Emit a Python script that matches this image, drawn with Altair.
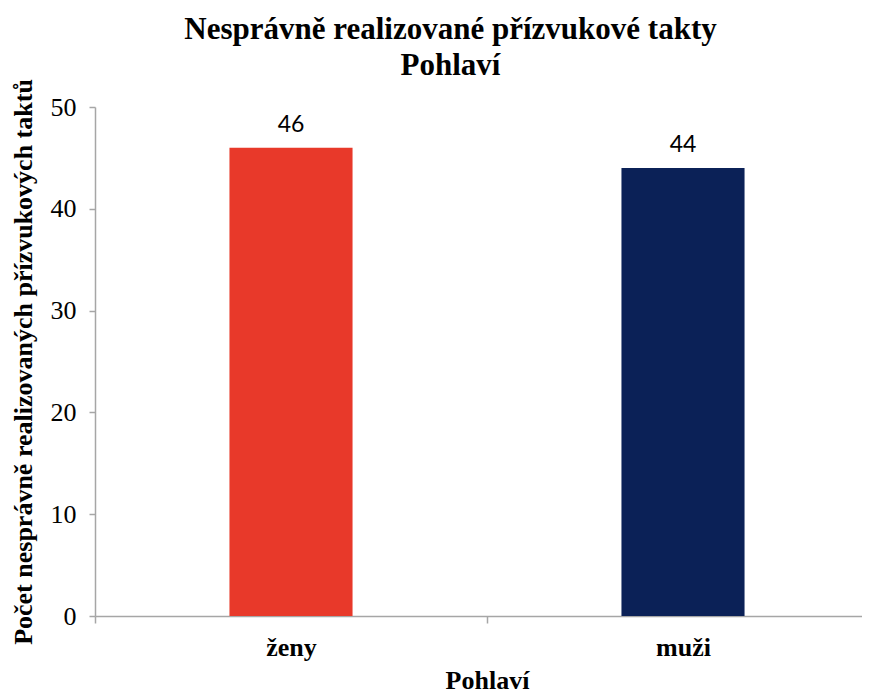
import altair as alt
import pandas as pd

categories = ["ženy", "muži"]
values = [46, 44]
colors = ["#E8392A", "#0B2157"]

df = pd.DataFrame({"pohlavi": categories, "pocet": values})

serif = "Liberation Serif"

x_enc = alt.X(
    "pohlavi:N",
    sort=categories,
    scale=alt.Scale(range=[0, 784], paddingInner=0, paddingOuter=0),
    axis=alt.Axis(
        title="Pohlaví",
        labelAngle=0,
        labelFont=serif,
        labelFontSize=26,
        labelFontWeight="bold",
        labelColor="#000000",
        labelPadding=11,
        tickBand="extent",
        tickSize=7,
        tickColor="#a6a6a6",
        tickWidth=1.5,
        domainColor="#a6a6a6",
        domainWidth=1.5,
        titleFont=serif,
        titleFontSize=26,
        titleFontWeight="bold",
        titleColor="#000000",
        titlePadding=7,
        titleX=392,
    ),
)

y_enc = alt.Y(
    "pocet:Q",
    scale=alt.Scale(domain=[0, 50]),
    axis=alt.Axis(
        title="Počet nesprávně realizovaných přízvukových taktů",
        values=[0, 10, 20, 30, 40, 50],
        grid=False,
        labelFont=serif,
        labelFontSize=26,
        labelColor="#000000",
        labelPadding=13,
        tickSize=6,
        tickColor="#a6a6a6",
        tickWidth=1.5,
        domainColor="#a6a6a6",
        domainWidth=1.5,
        titleFont=serif,
        titleFontSize=26,
        titleFontWeight="bold",
        titleColor="#000000",
        titlePadding=14,
    ),
)

bars = alt.Chart(df).mark_bar(width=alt.RelativeBandSize(0.314)).encode(
    x=x_enc,
    y=y_enc,
    color=alt.Color("pohlavi:N", scale=alt.Scale(domain=categories, range=colors), legend=None),
)

labels = alt.Chart(df).mark_text(
    baseline="bottom", dy=-11, font="Lato", fontSize=23, color="#000000"
).encode(
    x=alt.X("pohlavi:N", sort=categories),
    y="pocet:Q",
    text="pocet:Q",
)

chart = (
    alt.layer(bars, labels)
    .properties(
        width=767,
        height=509,
        autosize=alt.AutoSizeParams(type="none"),
        padding={"left": 87, "top": 99, "right": 0, "bottom": 77},
        title=alt.TitleParams(
            text=["Nesprávně realizované přízvukové takty", "Pohlaví"],
            font=serif,
            fontSize=31,
            fontWeight="bold",
            color="#000000",
            lineHeight=36,
            anchor="middle",
            dx=-28,
            offset=-3,
        ),
    )
    .configure_view(stroke=None)
)

chart.save("out.html", embed_options={"renderer": "svg", "actions": False})
